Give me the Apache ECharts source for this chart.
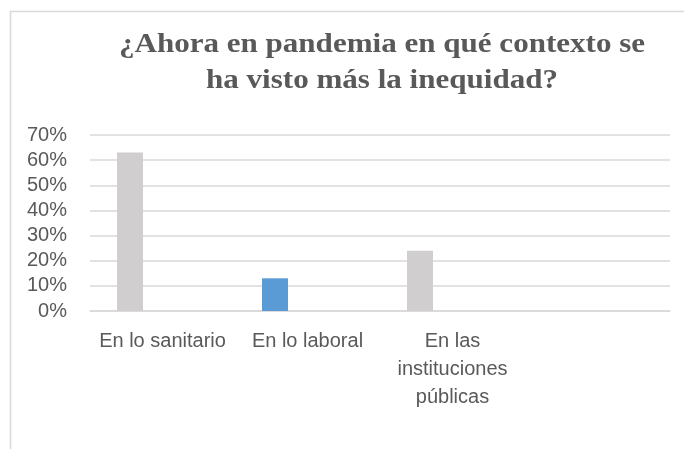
<!DOCTYPE html>
<html>
<head>
<meta charset="utf-8">
<script src="https://cdn.jsdelivr.net/npm/echarts@6/dist/echarts.min.js"></script>
<style>
html,body{margin:0;padding:0;background:#fff;}
#c{width:684px;height:449px;}
</style>
</head>
<body>
<div id="c"></div>
<script>
const titleText = "¿Ahora en pandemia en qué contexto se\nha visto más la inequidad?";
const categories = ["En lo sanitario", "En lo laboral", "En las instituciones públicas", ""];
const values = [63, 13, 24, null];
const barColors = ["#d0cece", "#5b9bd5", "#d0cece", "#d0cece"];
const yTicks = [0, 10, 20, 30, 40, 50, 60, 70];

const chart = echarts.init(document.getElementById('c'), null, {renderer: 'canvas'});
chart.setOption({
  animation: false,
  backgroundColor: '#ffffff',
  graphic: [{
    type: 'rect',
    shape: {x: 10.5, y: 11.5, width: 700, height: 500},
    style: {fill: 'none', stroke: '#d9d9d9', lineWidth: 1.5},
    silent: true,
    z: -1
  }, {
    type: 'text',
    x: 382,
    y: 27,
    scaleX: 1.15,
    silent: true,
    style: {
      text: titleText,
      align: 'center',
      verticalAlign: 'top',
      fontFamily: 'Liberation Serif',
      fontWeight: 'bold',
      fontSize: 27,
      lineHeight: 36,
      fill: '#595959'
    }
  }],
  grid: {left: 90, right: 14, top: 135, bottom: 138, containLabel: false},
  xAxis: {
    type: 'category',
    data: categories,
    axisLine: {show: true, lineStyle: {color: '#d9d9d9', width: 1.5}},
    axisTick: {show: false},
    axisLabel: {
      interval: 0,
      color: '#595959',
      fontFamily: 'Liberation Sans',
      fontSize: 20,
      lineHeight: 28,
      margin: 16,
      formatter: function (v) {
        return v === "En las instituciones públicas" ? "En las\ninstituciones\npúblicas" : v;
      }
    }
  },
  yAxis: {
    type: 'value',
    min: yTicks[0],
    max: yTicks[yTicks.length - 1],
    interval: 10,
    axisLine: {show: false},
    axisTick: {show: false},
    splitLine: {lineStyle: {color: '#d9d9d9', width: 1.5}},
    axisLabel: {
      formatter: '{value}%',
      color: '#595959',
      fontFamily: 'Liberation Sans',
      fontSize: 20,
      margin: 23
    }
  },
  series: [{
    type: 'bar',
    name: 'Respuestas',
    data: values.map((v, i) => ({value: v, itemStyle: {color: barColors[i]}})),
    barWidth: 26,
    barGap: '150%'
  }, {
    type: 'bar',
    name: 'vacía',
    data: [null, null, null, null],
    barWidth: 26
  }]
});
</script>
</body>
</html>
